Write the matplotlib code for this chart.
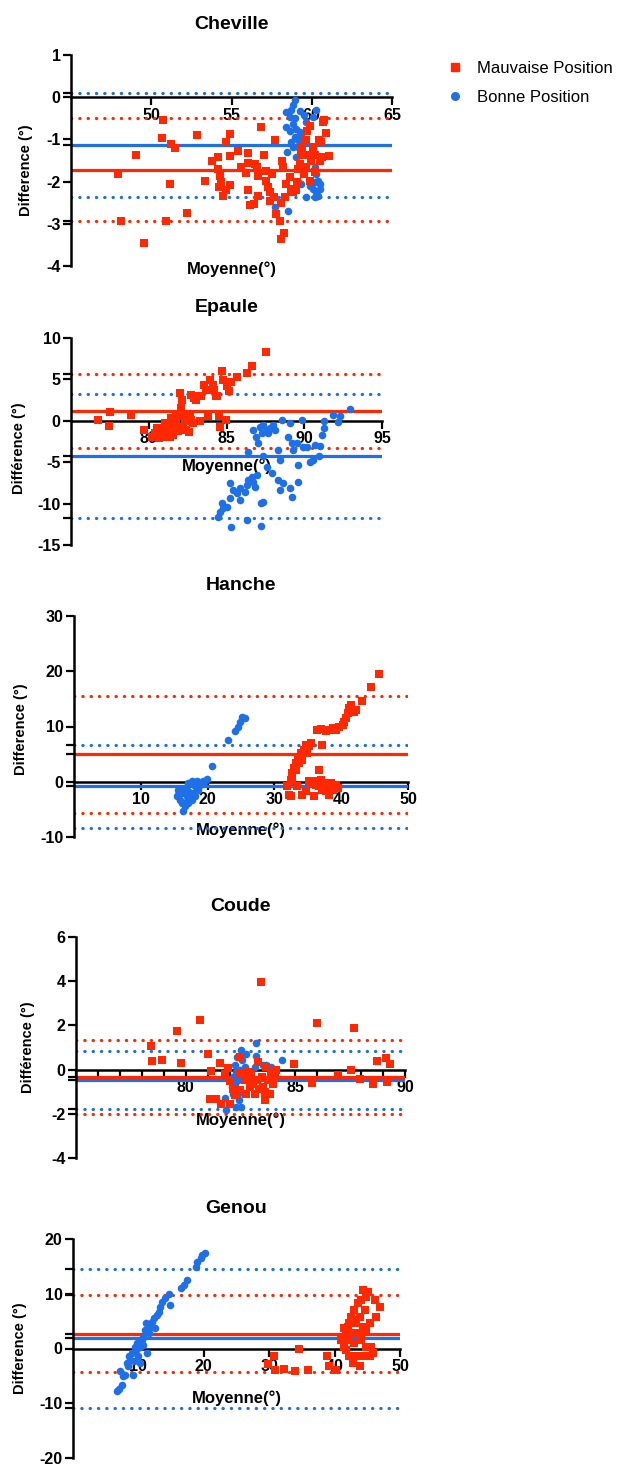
import matplotlib
matplotlib.use('Agg')
import matplotlib.pyplot as plt
from matplotlib.lines import Line2D
from matplotlib.ticker import MultipleLocator

plt.rcParams['font.family'] = ['Liberation Sans', 'DejaVu Sans']
plt.rcParams['axes.unicode_minus'] = False

RED = '#FF2800'
BLUE = '#1F6FE6'

# ---- Cheville ----
chev_bad_x = [47.92, 48.13, 49.02, 49.52, 50.73, 50.66, 50.94, 51.14, 51.2, 51.45, 52.22, 52.87, 53.32,
              53.76, 54.16, 54.16, 54.26, 54.37, 54.22, 54.47, 54.63, 54.88, 54.88, 54.92, 54.67, 55.42,
              55.61, 55.92, 56.03, 56.03, 56.03, 56.17, 56.38, 56.44, 56.59, 56.67, 56.63, 56.82, 57.02,
              57.13, 57.17, 57.27, 57.38, 57.42, 57.55, 57.63, 57.73, 57.79, 58.0, 58.06, 58.1, 58.25,
              58.17, 58.21, 58.35, 58.41, 58.62, 58.73, 58.83, 58.99, 59.1, 59.14, 59.25, 59.35, 59.41,
              59.5, 59.62, 59.66, 59.7, 59.87, 59.77, 59.87, 59.97, 60.08, 60.18, 60.18, 60.45, 60.6,
              60.66, 60.73, 60.79, 60.89, 61.1, 60.5]
chev_bad_y = [-1.82, -2.93, -1.36, -3.46, -0.53, -0.97, -2.93, -2.06, -1.12, -1.2, -2.74, -0.89, -1.98,
              -1.52, -1.42, -1.7, -1.86, -2.02, -2.13, -2.33, -1.06, -0.87, -1.39, -2.08, -2.21, -1.28,
              -1.66, -1.8, -1.32, -1.56, -2.21, -2.55, -2.53, -1.59, -1.66, -1.87, -2.33, -0.71, -1.36,
              -1.74, -1.98, -2.13, -2.25, -2.45, -1.82, -2.37, -1.01, -2.77, -2.93, -2.5, -3.37, -3.21,
              -1.5, -1.66, -2.37, -2.06, -1.9, -2.17, -2.25, -2.21, -2.02, -1.7, -1.58, -1.38, -1.18,
              -1.82, -1.66, -1.02, -0.8, -0.69, -1.38, -1.98, -1.5, -1.18, -1.36, -1.78, -1.01, -1.06,
              -1.42, -0.59, -0.53, -0.85, -1.4, -1.52]
chev_good_x = [58.98, 58.83, 58.4, 58.66, 58.96, 59.27, 59.5, 58.4, 58.66, 58.83, 59.04, 59.25, 58.94,
               58.68, 58.83, 59.14, 59.35, 59.66, 60.29, 60.08, 58.46, 59.04, 59.14, 59.35, 60.18, 60.29,
               60.18, 60.39, 60.08, 60.29, 60.5, 59.62, 60.18, 60.39, 57.69, 58.52, 58.73, 59.14, 59.25,
               59.87, 60.5]
chev_good_y = [-0.07, -0.19, -0.35, -0.47, -0.5, -0.33, -0.43, -0.71, -0.79, -0.63, -0.75, -0.83, -0.94,
               -1.06, -1.18, -1.02, -0.9, -0.59, -0.31, -0.47, -1.3, -1.42, -2.02, -2.06, -1.66, -1.82,
               -2.02, -1.98, -2.17, -2.25, -2.06, -2.36, -2.37, -2.33, -2.61, -2.69, -0.31, -1.18, -1.1,
               -2.1, -2.17]
chev_bad_lines = [-1.72, -0.50, -2.94]
chev_good_lines = [-1.13, 0.09, -2.36]

# ---- Epaule ----
epa_bad_x = [76.72, 77.43, 77.54, 78.83, 79.67, 80.24, 80.39, 80.5, 80.67, 80.82, 80.92, 81.03, 81.13,
             81.24, 81.34, 81.45, 81.56, 81.67, 81.77, 81.88, 81.99, 81.99, 82.16, 82.1, 82.2, 82.31,
             82.42, 82.57, 82.68, 82.74, 82.85, 82.91, 83.06, 83.22, 83.28, 83.39, 83.54, 83.67, 83.82,
             83.92, 84.14, 84.2, 84.31, 84.4, 84.5, 84.57, 84.68, 84.78, 84.96, 85.0, 85.17, 85.28,
             85.69, 86.29, 86.66, 87.54, 80.5, 80.71, 81.03, 81.34, 81.56, 81.77, 82.2, 82.42, 82.74,
             81.67, 81.24]
epa_bad_y = [0.12, -0.6, 1.01, 0.73, -1.09, -1.9, -1.49, -0.89, -2.1, -1.69, -1.09, -0.28, -1.9,
             -1.29, -0.69, 0.32, -1.69, -0.89, -0.28, -1.29, 0.52, 3.35, 2.54, 1.53, -0.69, -0.08,
             -1.09, -1.3, 0.52, 3.15, -0.28, 2.74, 2.54, 2.94, -0.08, 2.94, 4.35, 3.75, 0.52,
             4.96, 4.35, 3.75, 2.94, 2.94, 0.52, -0.69, 5.97, 4.96, 0.12, 4.15, 3.55, 4.64,
             5.28, 5.77, 6.65, 8.31, -1.9, -1.29, -1.49, -1.9, -0.28, 0.52, 0.73, 0.52, 0.12,
             -0.08, -0.48]
epa_good_x = [85.28, 86.29, 87.22, 84.46, 84.57, 84.68, 84.78, 85.22, 85.22, 85.43, 85.65, 85.86, 86.18,
              86.29, 86.4, 86.61, 86.72, 86.83, 86.94, 86.4, 86.72, 87.04, 87.37, 87.58, 87.8, 88.01,
              87.37, 87.58, 87.9, 87.2, 87.37, 88.33, 88.44, 88.66, 88.33, 88.44, 88.6, 88.97, 89.09,
              89.19, 89.3, 89.09, 89.19, 89.52, 89.62, 89.62, 89.84, 89.95, 90.16, 90.38, 90.59, 90.7,
              90.92, 91.02, 91.13, 91.24, 91.24, 91.88, 92.2, 92.31, 92.96, 87.69, 88.12, 87.15, 86.9,
              87.26, 85.86, 85.0]
epa_good_y = [-12.86, -11.98, -12.7, -11.57, -10.97, -9.96, -10.56, -9.35, -7.54, -8.35, -8.75, -8.15, -8.55,
              -7.74, -7.14, -6.73, -7.34, -7.94, -6.53, -3.71, -1.09, -2.7, -0.48, -1.09, -0.89, -0.48,
              -4.31, -5.52, -6.33, -9.96, -9.76, -7.14, -8.35, -7.54, -3.51, -4.72, 0.12, -1.9, -0.28,
              -2.7, -3.51, -8.15, -9.15, -2.7, -5.32, -7.34, 0.04, -3.11, -3.11, -4.92, -4.72, -2.9,
              -4.31, -3.03, -1.69, -0.89, -0.08, 0.73, -0.2, 0.6, 1.45, -1.49, -1.09, -0.69, -1.9,
              -1.49, -9.55, -10.36]
epa_bad_lines = [1.19, 5.69, -3.30]
epa_good_lines = [-4.31, 3.19, -11.77]

# ---- Hanche ----
han_bad_x = [32.17, 31.92, 32.42, 32.67, 32.93, 33.18, 33.58, 33.93, 34.19, 34.44, 34.69, 34.94, 35.19,
             35.44, 32.42, 32.67, 33.18, 33.68, 33.43, 34.19, 34.69, 35.94, 32.42, 36.45, 36.95, 37.7,
             38.2, 38.71, 39.21, 39.71, 40.21, 40.46, 40.71, 40.97, 41.22, 41.47, 41.97, 42.22, 43.13,
             44.5, 45.65, 37.1, 35.19, 35.69, 36.2, 36.7, 36.95, 37.45, 37.95, 38.46, 38.71, 38.2,
             37.2, 36.7, 39.21, 39.46, 35.94, 37.7]
han_bad_y = [-2.35, -0.84, 0.36, 1.57, 2.47, 3.37, 4.28, 5.18, 3.97, 5.78, 6.69, 5.18, 6.39,
             6.99, 0.06, 0.66, 2.17, 3.37, -0.84, -2.35, -1.75, -2.65, -2.65, 9.4, 9.52, 9.1,
             9.4, 9.7, 9.4, 10.0, 10.3, 10.9, 11.5, 12.4, 13.3, 13.9, 12.7, 13.0, 14.7,
             17.2, 19.5, 6.69, 0.06, -0.24, -0.54, 2.17, 0.36, -0.24, -0.84, -0.24, -1.45, -2.35,
             -1.45, -0.84, -0.54, -1.15, 0.06, -1.75]
han_good_x = [15.61, 15.36, 15.86, 16.11, 16.62, 16.87, 17.12, 17.62, 16.62, 16.37, 17.12, 17.37, 17.87,
              18.12, 18.38, 18.63, 18.88, 19.38, 19.88, 17.62, 16.11, 20.73, 23.04, 24.15, 24.5, 24.9,
              25.15, 25.55, 15.61, 16.37, 17.12, 16.87, 18.12, 19.63]
han_good_y = [-1.45, -2.65, -3.25, -2.05, -1.15, -2.65, -0.24, 0.06, -4.46, -5.36, -3.86, -2.95, -2.05,
              -0.84, 0.06, -1.45, -0.54, 0.06, 0.48, -3.25, -3.86, 2.77, 7.47, 9.1, 10.0, 10.9,
              11.8, 11.5, -2.35, -1.45, -1.75, -3.55, -2.65, 0.06]
han_bad_lines = [5.06, 15.6, -5.66]
han_good_lines = [-0.84, 6.57, -8.37]

# ---- Coude ----
cou_bad_x = [78.43, 78.46, 78.92, 79.6, 79.8, 80.64, 81.02, 81.17, 81.13, 81.4, 81.55, 81.6, 81.78,
             81.93, 82.01, 82.01, 82.16, 82.24, 82.47, 82.47, 82.69, 82.77, 82.92, 82.99, 83.07, 83.15,
             83.23, 83.3, 83.35, 83.42, 83.46, 83.53, 83.61, 83.68, 83.76, 83.84, 83.91, 83.99, 84.06,
             84.14, 82.85, 83.61, 82.47, 84.93, 85.77, 86.01, 86.96, 87.53, 87.69, 87.95, 88.55, 88.71,
             89.13, 89.19, 89.31]
cou_bad_y = [1.07, 0.38, 0.45, 1.75, 0.3, 2.26, 0.72, -0.06, -1.31, -1.31, 0.3, -1.57, -0.18,
             0.08, -1.57, -0.51, -0.86, -1.16, 0.57, -0.94, -0.48, -1.09, -0.78, -0.18, -0.63, -1.09,
             -0.48, 0.35, -0.86, 3.97, -0.33, -0.78, -1.39, 0.12, -0.48, -1.09, -0.18, -0.63, -0.11,
             -0.03, -0.11, -1.01, -0.18, 0.27, -0.6, 2.11, -0.26, 0.0, 1.86, -0.41, -0.63, 0.38,
             0.53, -0.56, 0.24]
cou_good_x = [81.78, 81.86, 82.09, 82.16, 82.24, 82.31, 82.39, 82.44, 82.5, 82.54, 82.59, 82.69, 82.77,
              82.34, 82.39, 83.2, 83.2, 83.15, 83.53, 83.68, 83.91, 84.37, 82.16, 82.01, 82.24, 82.47,
              82.31]
cou_good_y = [-1.27, -1.84, -0.78, -0.33, 0.2, -0.11, -0.48, -1.39, -1.69, 0.87, 0.42, 0.12, 0.72,
              0.57, -1.09, 1.2, 0.6, 0.12, 0.2, 0.2, 0.12, 0.45, -1.09, -1.54, -0.63, -0.03,
              -1.69]
cou_bad_lines = [-0.33, 1.36, -2.00]
cou_good_lines = [-0.48, 0.83, -1.80]

# ---- Genou ----
gen_bad_x = [29.77, 30.8, 30.9, 32.19, 33.9, 34.52, 35.96, 38.9, 39.16, 40.19, 41.23, 41.48, 41.74,
             41.99, 42.26, 42.52, 42.77, 43.03, 43.29, 43.29, 43.55, 43.81, 44.06, 44.06, 44.32, 44.58,
             44.84, 45.1, 45.35, 45.61, 45.87, 46.13, 46.39, 46.9, 42.26, 42.77, 43.81, 44.32, 44.84,
             41.74, 43.03, 43.55, 44.32, 45.35, 42.77, 41.99, 41.48, 40.97, 44.84]
gen_bad_y = [-2.8, -1.28, -4.01, -3.77, -4.19, -0.12, -3.89, -1.28, -3.16, -3.89, 2.19, 0.36, 3.4,
             1.58, 4.62, 5.84, 2.8, 7.05, -1.46, 4.62, 8.27, 5.84, 1.58, 8.88, 4.01, 7.05,
             9.48, 10.4, 4.62, 0.36, -0.85, 8.88, 5.84, 7.66, -1.46, -2.67, -3.28, -1.46, 0.36,
             -0.24, 0.97, 2.8, 10.7, -1.46, 5.23, 4.01, 3.71, 1.58, 3.4]
gen_good_x = [6.8, 7.06, 7.42, 7.26, 7.57, 7.94, 8.19, 8.61, 8.45, 8.97, 9.12, 9.33, 9.64,
              10.0, 9.85, 10.26, 10.52, 10.77, 10.77, 11.03, 11.29, 11.55, 11.81, 12.06, 12.32, 12.58,
              12.84, 13.1, 13.35, 13.61, 14.13, 14.65, 14.8, 16.45, 16.97, 17.48, 18.77, 19.03, 19.55,
              19.8, 20.17, 8.71, 9.48, 11.19, 10.26]
gen_good_y = [-7.84, -7.42, -6.63, -4.19, -5.11, -4.8, -2.67, -1.46, -3.28, -0.85, -4.8, -2.37, -0.24,
              -1.46, 0.97, 0.36, 1.58, 2.19, 0.67, 3.4, -0.85, 2.8, 4.01, 4.92, 5.53, 3.71,
              6.14, 6.75, 7.66, 8.57, 9.18, 9.97, 7.96, 11.0, 11.61, 12.52, 14.95, 15.87, 16.47,
              17.08, 17.51, -2.07, 0.36, 4.62, -2.67]
gen_bad_lines = [2.67, 9.79, -4.38]
gen_good_lines = [1.88, 14.53, -10.88]

W, H = 618, 1465
fig = plt.figure(figsize=(W / 100, H / 100), dpi=100)


def panel(box, title, ylab, xlim, ylim, xticks, yticks, extra_ticks,
          bx, by, gx, gy, blines, glines, xlab_y, ylab_pos):
    l, t, r, b = box
    ax = fig.add_axes([l / W, 1 - b / H, (r - l) / W, (b - t) / H])
    for vals, c in ((glines, BLUE), (blines, RED)):
        ax.axhline(vals[0], color=c, lw=2.3, zorder=2)
        for v in vals[1:]:
            ax.axhline(v, color=c, lw=2.3, linestyle=(0, (0.1, 2.5)),
                       dash_capstyle='round', zorder=2)
    ax.scatter(gx, gy, s=30, marker='o', color=BLUE, linewidths=0, zorder=4)
    ax.scatter(bx, by, s=32, marker='s', color=RED, linewidths=0, zorder=5)
    ax.set_xlim(xlim)
    ax.set_ylim(ylim)
    ax.spines['top'].set_visible(False)
    ax.spines['right'].set_visible(False)
    ax.spines['bottom'].set_position(('data', 0))
    ax.spines['left'].set_linewidth(1.8)
    ax.spines['bottom'].set_linewidth(1.8)
    ax.spines['bottom'].set_zorder(3)
    ax.set_xticks(xticks)
    ax.set_yticks(yticks)
    ax.set_yticks(extra_ticks, minor=True)
    ax.tick_params(axis='both', which='both', length=5.5, width=1.6, labelsize=11.5, pad=2)
    for lab in ax.get_xticklabels() + ax.get_yticklabels():
        lab.set_fontweight('bold')
    ax.set_title(title, fontsize=14, fontweight='bold', pad=19)
    ax.set_xlabel('Moyenne(°)', fontsize=12, fontweight='bold')
    ax.xaxis.set_label_coords(0.5, xlab_y)
    ax.set_ylabel(ylab, fontsize=10.5, fontweight='bold')
    ax.yaxis.set_label_coords(ylab_pos[0], ylab_pos[1])
    return ax


ax1 = panel((71, 55, 392, 266), 'Cheville', 'Difference (°)', (45, 65), (-4, 1),
            [50, 55, 60, 65], range(-4, 2), [0.09, -1.13, -2.94],
            chev_bad_x, chev_bad_y, chev_good_x, chev_good_y,
            chev_bad_lines, chev_good_lines, 0.02, (-0.118, 0.455))
ax2 = panel((71, 338, 382, 545), 'Epaule', 'Différence (°)', (75, 95), (-15, 10),
            [80, 85, 90, 95], range(-15, 11, 5), [5.69, -4.31, -11.77],
            epa_bad_x, epa_bad_y, epa_good_x, epa_good_y,
            epa_bad_lines, epa_good_lines, 0.42, (-0.145, 0.47))
ax3 = panel((74, 616, 408, 837), 'Hanche', 'Difference (°)', (0, 50), (-10, 30),
            [10, 20, 30, 40, 50], range(-10, 31, 10), [6.57, 5.06, -0.84],
            han_bad_x, han_bad_y, han_good_x, han_good_y,
            han_bad_lines, han_good_lines, 0.068, (-0.138, 0.49))
ax4 = panel((76, 937, 405, 1158), 'Coude', 'Différence (°)', (75, 90), (-4, 6),
            [80, 85, 90], range(-4, 7, 2), [-0.33, -0.48, -1.8],
            cou_bad_x, cou_bad_y, cou_good_x, cou_good_y,
            cou_bad_lines, cou_good_lines, 0.208, (-0.125, 0.5))
ax4.xaxis.set_minor_locator(MultipleLocator(1))
ax4.tick_params(axis='x', which='minor', length=5.5, width=1.6)
ax5 = panel((73, 1239, 400, 1458), 'Genou', 'Difference (°)', (0, 50), (-20, 20),
            [10, 20, 30, 40, 50], range(-20, 21, 10), [14.53, 9.79, 2.67, 1.88, -10.88],
            gen_bad_x, gen_bad_y, gen_good_x, gen_good_y,
            gen_bad_lines, gen_good_lines, 0.31, (-0.141, 0.5))

handles = [Line2D([], [], marker='s', color=RED, linestyle='none', markersize=6),
           Line2D([], [], marker='o', color=BLUE, linestyle='none', markersize=5.5)]
fig.legend(handles, ['Mauvaise Position', 'Bonne Position'], loc='upper left',
           bbox_to_anchor=(432 / W, 1 - 46 / H), frameon=False, fontsize=12,
           handletextpad=0.8, labelspacing=0.85, handlelength=1.0)

fig.savefig('out.png', dpi=100)
